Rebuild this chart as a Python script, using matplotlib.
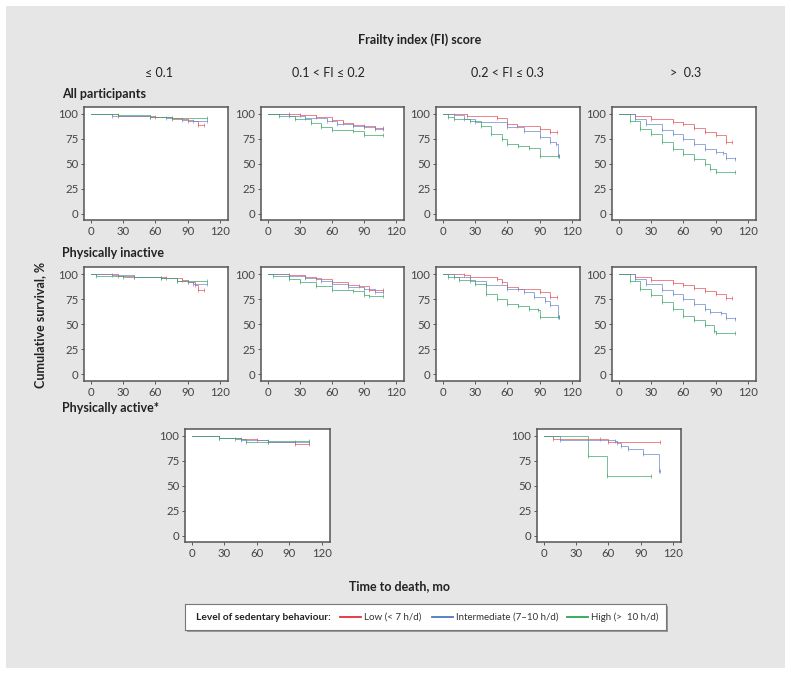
import matplotlib.pyplot as plt
from matplotlib.patches import Rectangle

plt.rcParams['font.family'] = ['Lato', 'DejaVu Sans']

W, H = 791, 675

col_titles = ['\u2264 0.1', '0.1 < FI \u2264 0.2', '0.2 < FI \u2264 0.3', '>  0.3']
row_titles = ['All participants', 'Physically inactive', 'Physically active*']
level_names = ['Low (< 7 h/d)', 'Intermediate (7\u201310 h/d)', 'High (>  10 h/d)']
xticks = [0, 30, 60, 90, 120]
yticks = [0, 25, 50, 75, 100]

# Kaplan-Meier steps: time (mo), survival (%)
# All participants
all1_low_t = [0, 25, 60, 75, 90, 100, 105]
all1_low_s = [100, 98, 97, 95, 93, 89, 89]
all1_mid_t = [0, 20, 55, 70, 85, 95, 108]
all1_mid_s = [100, 98, 97, 96, 94, 93, 93]
all1_high_t = [0, 25, 55, 75, 108]
all1_high_s = [100, 99, 97, 96, 96]

all2_low_t = [0, 20, 30, 45, 60, 70, 80, 90, 100, 108]
all2_low_s = [100, 100, 99, 97, 94, 91, 89, 88, 86, 86]
all2_mid_t = [0, 20, 35, 55, 65, 80, 90, 100, 108]
all2_mid_s = [100, 98, 96, 93, 90, 88, 87, 85, 85]
all2_high_t = [0, 10, 25, 40, 50, 60, 80, 90, 108]
all2_high_s = [100, 98, 95, 91, 87, 84, 83, 79, 79]

all3_low_t = [0, 22, 50, 60, 69, 90, 100, 106]
all3_low_s = [100, 98, 96, 90, 88, 85, 82, 82]
all3_mid_t = [0, 10, 20, 30, 60, 75, 90, 100, 105, 107, 108]
all3_mid_s = [100, 99, 95, 92, 87, 83, 77, 72, 70, 58, 58]
all3_high_t = [0, 5, 10, 25, 35, 45, 55, 60, 70, 80, 90, 108]
all3_high_s = [100, 97, 95, 93, 88, 80, 75, 70, 68, 66, 58, 58]

all4_low_t = [0, 15, 30, 50, 60, 70, 80, 90, 100, 105]
all4_low_s = [100, 98, 95, 92, 90, 86, 82, 79, 72, 72]
all4_mid_t = [0, 15, 25, 40, 50, 60, 70, 80, 90, 97, 100, 108]
all4_mid_s = [100, 95, 90, 84, 80, 75, 70, 65, 62, 61, 56, 55]
all4_high_t = [0, 10, 20, 30, 40, 50, 60, 70, 80, 85, 90, 108]
all4_high_s = [100, 93, 85, 80, 72, 65, 60, 55, 50, 45, 42, 42]

# Physically inactive
ina1_low_t = [0, 25, 40, 70, 85, 90, 97, 100, 105]
ina1_low_s = [100, 98, 97, 96, 94, 92, 89, 84, 84]
ina1_mid_t = [0, 20, 40, 65, 80, 90, 95, 108]
ina1_mid_s = [100, 99, 97, 96, 93, 92, 90, 90]
ina1_high_t = [0, 5, 30, 65, 80, 108]
ina1_high_s = [100, 98, 97, 96, 93, 93]

ina2_low_t = [0, 20, 35, 45, 60, 75, 85, 95, 108]
ina2_low_s = [100, 99, 97, 95, 92, 89, 88, 84, 84]
ina2_mid_t = [0, 20, 35, 50, 60, 75, 90, 100, 108]
ina2_mid_s = [100, 98, 96, 93, 90, 87, 85, 82, 82]
ina2_high_t = [0, 5, 20, 30, 45, 60, 80, 90, 95, 108]
ina2_high_s = [100, 98, 95, 92, 88, 84, 83, 79, 78, 78]

ina3_low_t = [0, 20, 25, 50, 55, 60, 70, 90, 100, 106]
ina3_low_s = [100, 99, 97, 95, 92, 87, 85, 82, 77, 77]
ina3_mid_t = [0, 10, 25, 40, 60, 75, 85, 95, 100, 107, 108]
ina3_mid_s = [100, 97, 93, 89, 85, 82, 77, 73, 69, 57, 57]
ina3_high_t = [0, 5, 15, 30, 40, 50, 60, 70, 80, 88, 90, 108]
ina3_high_s = [100, 97, 94, 90, 80, 75, 70, 68, 65, 64, 57, 57]

ina4_low_t = [0, 15, 30, 50, 60, 70, 80, 90, 100, 105]
ina4_low_s = [100, 97, 94, 91, 89, 86, 83, 80, 76, 76]
ina4_mid_t = [0, 15, 25, 40, 50, 60, 70, 80, 85, 95, 100, 108]
ina4_mid_s = [100, 95, 90, 84, 80, 75, 70, 65, 62, 61, 56, 55]
ina4_high_t = [0, 10, 20, 30, 40, 50, 60, 70, 80, 88, 90, 108]
ina4_high_s = [100, 93, 85, 79, 72, 65, 58, 54, 49, 43, 41, 41]

# Physically active (only first and last FI groups shown)
act1_low_t = [0, 25, 45, 60, 70, 95, 108]
act1_low_s = [100, 98, 97, 96, 94, 92, 92]
act1_mid_t = [0, 25, 45, 70, 95, 108]
act1_mid_s = [100, 98, 96, 94, 94, 94]
act1_high_t = [0, 25, 40, 50, 70, 108]
act1_high_s = [100, 98, 97, 94, 95, 95]

act4_low_t = [0, 8, 52, 60, 108]
act4_low_s = [100, 97, 97, 94, 94]
act4_mid_t = [0, 15, 66, 68, 72, 78, 92, 107, 108]
act4_mid_s = [100, 96, 95, 93, 90, 87, 82, 65, 65]
act4_high_t = [0, 41, 59, 100]
act4_high_s = [100, 80, 60, 60]

colors = ['#e6505a', '#6a85c8', '#3aa468']
legend_colors = ['#e0303c', '#4a7bc4', '#2aa652']

# pixel boxes of the panels: (row, col) -> left, top, right, bottom
boxes = {
    (0, 0): (84, 107, 228, 220), (0, 1): (261, 107, 404, 220),
    (0, 2): (436, 107, 580, 220), (0, 3): (612, 107, 756, 220),
    (1, 0): (84, 267, 228, 381), (1, 1): (261, 267, 404, 381),
    (1, 2): (436, 267, 580, 381), (1, 3): (612, 267, 756, 381),
    (2, 0): (185, 429, 330, 542), (2, 3): (537, 429, 681, 542),
}
curves = {
    (0, 0): [(all1_low_t, all1_low_s), (all1_mid_t, all1_mid_s), (all1_high_t, all1_high_s)],
    (0, 1): [(all2_low_t, all2_low_s), (all2_mid_t, all2_mid_s), (all2_high_t, all2_high_s)],
    (0, 2): [(all3_low_t, all3_low_s), (all3_mid_t, all3_mid_s), (all3_high_t, all3_high_s)],
    (0, 3): [(all4_low_t, all4_low_s), (all4_mid_t, all4_mid_s), (all4_high_t, all4_high_s)],
    (1, 0): [(ina1_low_t, ina1_low_s), (ina1_mid_t, ina1_mid_s), (ina1_high_t, ina1_high_s)],
    (1, 1): [(ina2_low_t, ina2_low_s), (ina2_mid_t, ina2_mid_s), (ina2_high_t, ina2_high_s)],
    (1, 2): [(ina3_low_t, ina3_low_s), (ina3_mid_t, ina3_mid_s), (ina3_high_t, ina3_high_s)],
    (1, 3): [(ina4_low_t, ina4_low_s), (ina4_mid_t, ina4_mid_s), (ina4_high_t, ina4_high_s)],
    (2, 0): [(act1_low_t, act1_low_s), (act1_mid_t, act1_mid_s), (act1_high_t, act1_high_s)],
    (2, 3): [(act4_low_t, act4_low_s), (act4_mid_t, act4_mid_s), (act4_high_t, act4_high_s)],
}


def fx(px):
    return px / W


def fy(py):
    return 1 - py / H


fig = plt.figure(figsize=(W / 100, H / 100), dpi=100)
fig.patches.append(Rectangle((fx(6), fy(668)), (785 - 6) / W, (668 - 6) / H,
                             transform=fig.transFigure, facecolor='#e6e6e6',
                             edgecolor='none', zorder=-5))

for key, (l, t, r, b) in boxes.items():
    ax = fig.add_axes([fx(l), fy(b), (r - l) / W, (b - t) / H])
    for (tt, ss), c in zip(curves[key], colors):
        ax.plot(tt, ss, drawstyle='steps-post', color=c, lw=0.7, alpha=0.7)
        # censor marks
        ax.plot(tt[1:], ss[1:], ls='none', marker='|', ms=2.5, mew=0.6, color=c, alpha=0.7)
    ax.set_xlim(-6.5, 127.5)
    ax.set_ylim(-6.5, 107)
    ax.set_xticks(xticks)
    ax.set_yticks(yticks)
    ax.tick_params(labelsize=8.2, length=2, width=0.6, colors='#444444', pad=2)
    for sp in ax.spines.values():
        sp.set_color('#555555')
        sp.set_linewidth(1.1)

fig.text(fx(420), fy(40), 'Frailty index (FI) score', ha='center', va='center',
         fontsize=9, fontweight='bold', color='#222222')
for x, s in zip([159, 328, 507, 686], col_titles):
    fig.text(fx(x), fy(73), s, ha='center', va='center', fontsize=9, color='#222222')
for y, s in zip([94, 253, 408], row_titles):
    fig.text(fx(62), fy(y), s, ha='left', va='center', fontsize=9,
             fontweight='bold', color='#222222')
fig.text(fx(40), fy(325), 'Cumulative survival, %', rotation=90, ha='center', va='center',
         fontsize=9, fontweight='bold', color='#222222')
fig.text(fx(400), fy(586), 'Time to death, mo', ha='center', va='center',
         fontsize=9, fontweight='bold', color='#222222')

# legend box, laid out in pixel coordinates
shadow = Rectangle((fx(187), fy(632)), 481 / W, 26 / H, transform=fig.transFigure,
                   facecolor='#999999', edgecolor='none', zorder=-1)
fig.patches.append(shadow)
lax = fig.add_axes([fx(185), fy(630), 481 / W, 26 / H])
lax.set_xlim(185, 666)
lax.set_ylim(0, 1)
lax.set_xticks([])
lax.set_yticks([])
for sp in lax.spines.values():
    sp.set_color('#777777')
    sp.set_linewidth(0.8)
lax.text(196, 0.5, 'Level of sedentary behaviour:', ha='left', va='center',
         fontsize=7.3, fontweight='bold', color='#222222')
for x0, name, c in zip([340, 432, 567], level_names, legend_colors):
    lax.plot([x0, x0 + 21], [0.5, 0.5], color=c, lw=1.3)
    lax.text(x0 + 24, 0.5, name, ha='left', va='center', fontsize=7, color='#333333')

fig.savefig('out.png', dpi=100)
